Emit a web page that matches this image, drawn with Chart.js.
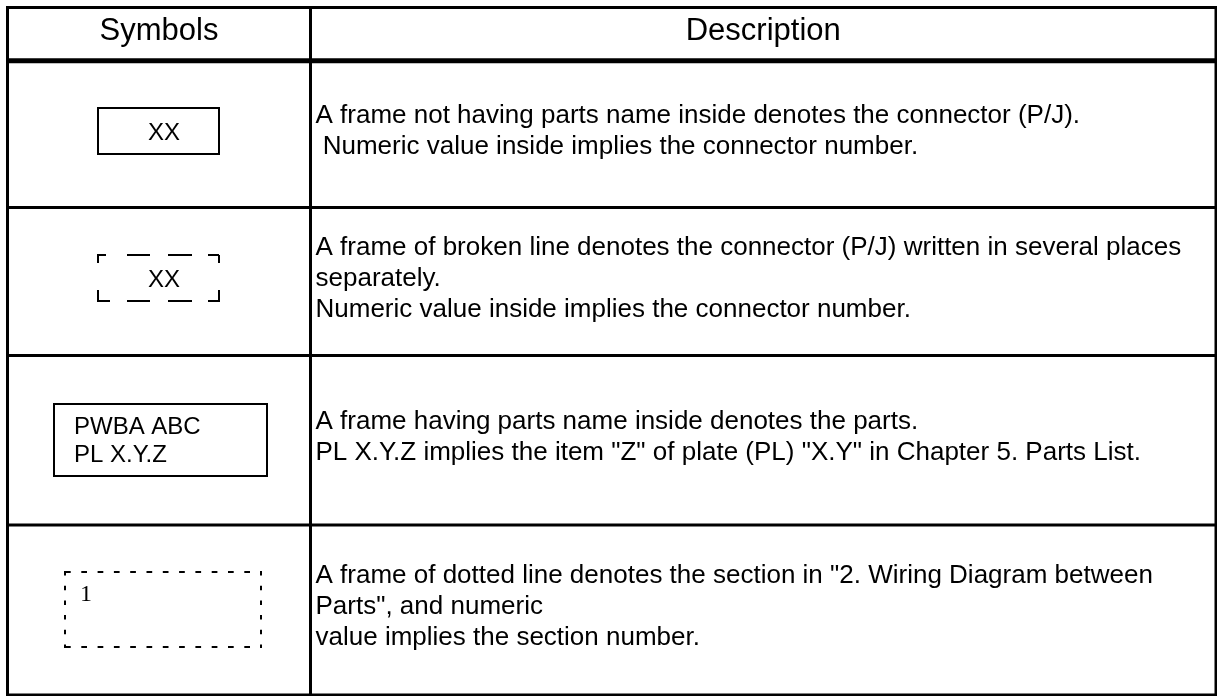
<!DOCTYPE html>
<html>
<head>
<meta charset="utf-8">
<script src="https://cdn.jsdelivr.net/npm/chart.js@4"></script>
<style>
html, body { margin: 0; padding: 0; background: #fff; }
#wrap { width: 1217px; height: 696px; }
</style>
</head>
<body>
<div id="wrap"><canvas id="symbolTable"></canvas></div>
<script>
// --- TABLE CONTENT ---
const headers = ["Symbols", "Description"];
const symbolKinds = ["solid", "broken", "parts", "dotted"];
const symbolLabels = [["XX"], ["XX"], ["PWBA ABC", "PL X.Y.Z"], ["1"]];
const descriptions = [
    ["A frame not having parts name inside denotes the connector (P/J).",
     " Numeric value inside implies the connector number."],
    ["A frame of broken line denotes the connector (P/J) written in several places",
     "separately.",
     "Numeric value inside implies the connector number."],
    ["A frame having parts name inside denotes the parts.",
     "PL X.Y.Z implies the item \"Z\" of plate (PL) \"X.Y\" in Chapter 5. Parts List."],
    ["A frame of dotted line denotes the section in \"2. Wiring Diagram between",
     "Parts\", and numeric",
     "value implies the section number."]
];

// --- LAYOUT (page units, mapped through the chart's x / y scales) ---
const W = 1217, H = 696;
const colEdges = [7.5, 310.5, 1216];
const rowEdges = [7.5, 60.8, 207.5, 355.5, 525, 695];
const frameBoxes = [
    { x0: 98, x1: 219, y0: 108, y1: 154 },
    { x0: 98, x1: 219, y0: 255, y1: 301 },
    { x0: 54, x1: 267, y0: 404, y1: 476 },
    { x0: 65, x1: 261, y0: 572, y1: 647 }
];
const SANS = '"Liberation Sans", Arial, sans-serif';
const SERIF = '"Liberation Serif", "Times New Roman", serif';

const tablePlugin = {
    id: 'tablePlugin',
    beforeDraw(chart) {
        const ctx = chart.ctx;
        ctx.save();
        ctx.fillStyle = '#fff';
        ctx.fillRect(0, 0, chart.width, chart.height);
        ctx.restore();
    },
    afterDraw(chart) {
        const ctx = chart.ctx;
        const sx = v => chart.scales.x.getPixelForValue(v);
        const sy = v => chart.scales.y.getPixelForValue(v);

        function line(x0, y0, x1, y1, width, dash) {
            ctx.beginPath();
            ctx.lineWidth = width;
            ctx.setLineDash(dash || []);
            ctx.moveTo(sx(x0), sy(y0));
            ctx.lineTo(sx(x1), sy(y1));
            ctx.stroke();
        }

        ctx.save();
        ctx.strokeStyle = '#000';
        ctx.fillStyle = '#000';
        ctx.lineCap = 'butt';

        // grid
        const left = colEdges[0], right = colEdges[colEdges.length - 1];
        const top = rowEdges[0], bottom = rowEdges[rowEdges.length - 1];
        rowEdges.forEach((y, i) => {
            const w = i === 1 ? 5 : 3;
            line(left - 1.5, y, right + 1.5, y, w);
        });
        colEdges.forEach(x => line(x, top - 1.5, x, bottom + 1.5, 3));

        // header
        ctx.font = '31px ' + SANS;
        ctx.textAlign = 'center';
        ctx.textBaseline = 'alphabetic';
        headers.forEach((h, i) => {
            const cx = (colEdges[i] + colEdges[i + 1]) / 2;
            ctx.fillText(h, sx(cx), sy(39.5));
        });

        // descriptions
        ctx.font = '26px ' + SANS;
        ctx.textAlign = 'left';
        descriptions.forEach((lines, r) => {
            const mid = (rowEdges[r + 1] + rowEdges[r + 2]) / 2;
            lines.forEach((t, i) => {
                const base = mid + (i - (lines.length - 1) / 2) * 31 + 4;
                ctx.fillText(t, sx(colEdges[1] + 5), sy(base));
            });
        });

        // symbol frames
        symbolKinds.forEach((kind, r) => {
            const b = frameBoxes[r];
            const labels = symbolLabels[r];
            if (kind === 'solid' || kind === 'parts') {
                ctx.setLineDash([]);
                ctx.lineWidth = 2;
                ctx.strokeRect(sx(b.x0), sy(b.y0), sx(b.x1) - sx(b.x0), sy(b.y1) - sy(b.y0));
            } else if (kind === 'broken') {
                line(b.x0 - 1, b.y0, b.x1 + 1, b.y0, 2, [9, 21, 23, 18, 24, 16, 11]);
                line(b.x0 - 1, b.y1, b.x1 + 1, b.y1, 2, [13, 17, 23, 18, 24, 16, 11]);
                line(b.x0, b.y0, b.x0, b.y1 + 1, 2, [8, 27, 12]);
                line(b.x1, b.y0, b.x1, b.y1 + 1, 2, [8, 27, 12]);
            } else if (kind === 'dotted') {
                line(b.x0, b.y0, b.x1 + 1, b.y0, 2, [5.7, 10.6]);
                line(b.x0, b.y1, b.x1 + 1, b.y1, 2, [5.7, 10.6]);
                line(b.x0, b.y0 - 1, b.x0, b.y1 + 1, 2, [4.5, 10.2]);
                line(b.x1, b.y0 - 1, b.x1, b.y1 + 1, 2, [4.5, 10.2]);
            }

            ctx.setLineDash([]);
            if (kind === 'solid' || kind === 'broken') {
                ctx.font = '24px ' + SANS;
                ctx.textAlign = 'center';
                const cy = (b.y0 + b.y1) / 2;
                ctx.fillText(labels[0], sx(164), sy(cy + 8.5));
            } else if (kind === 'parts') {
                ctx.font = '24px ' + SANS;
                ctx.textAlign = 'left';
                labels.forEach((t, i) => ctx.fillText(t, sx(b.x0 + 20), sy(434 + i * 28)));
            } else {
                ctx.font = '24px ' + SERIF;
                ctx.textAlign = 'left';
                ctx.fillText(labels[0], sx(b.x0 + 15), sy(601));
            }
        });
        ctx.restore();
    }
};

new Chart(document.getElementById('symbolTable'), {
    type: 'scatter',
    data: { datasets: [] },
    options: {
        responsive: true,
        maintainAspectRatio: false,
        animation: false,
        layout: { padding: 0 },
        scales: {
            x: { type: 'linear', min: 0, max: W, display: false },
            y: { type: 'linear', min: 0, max: H, reverse: true, display: false }
        },
        plugins: {
            legend: { display: false },
            tooltip: { enabled: false }
        }
    },
    plugins: [tablePlugin]
});
</script>
</body>
</html>
